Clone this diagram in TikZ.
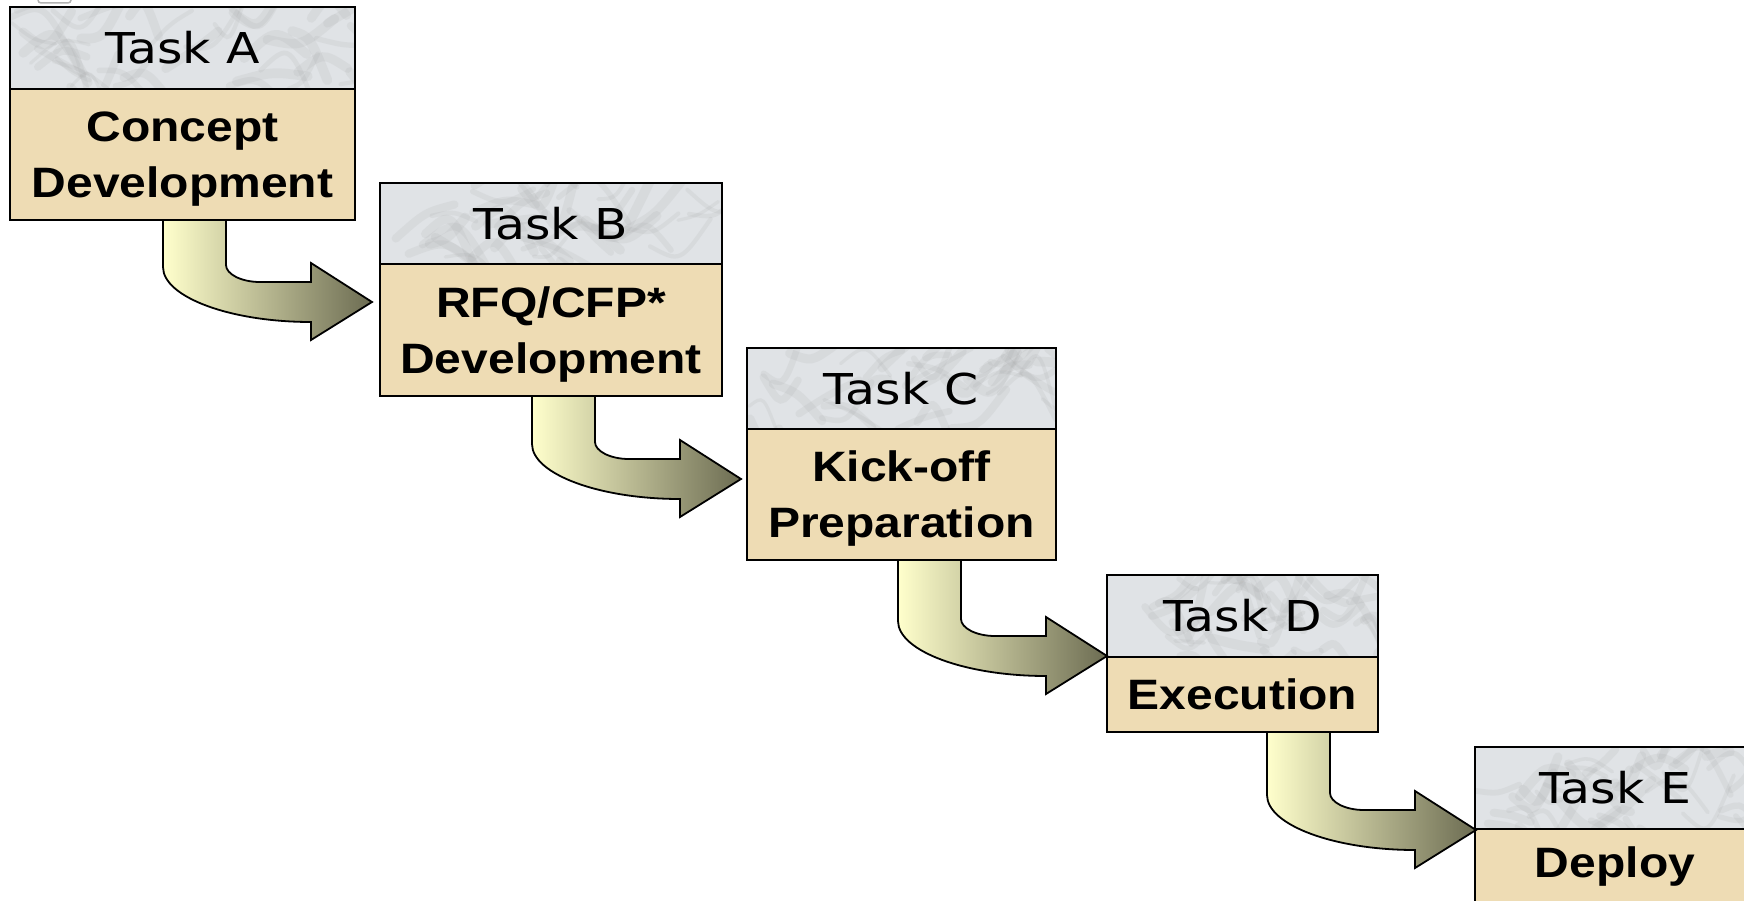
\documentclass[tikz,border=0pt]{standalone}
\usepackage{fontspec}
\setmainfont{Liberation Sans}[FakeStretch=1.13]
\newfontfamily\taskfont{DejaVu Sans}[FakeStretch=1.15]
\usetikzlibrary{calc}
\definecolor{marble}{HTML}{E0E3E6}
\definecolor{sand}{HTML}{EEDCB4}
\definecolor{ylw}{HTML}{FFFFCC}
\definecolor{olv}{HTML}{6C6C52}
\newcommand\topstrut{\rule{0pt}{39.5pt}}
\tikzset{
  marbletex/.style={path picture={
    \coordinate (pnw) at (path picture bounding box.north west);
    \coordinate (pse) at (path picture bounding box.south east);
    \foreach \k in {1,...,40}{
      \pgfmathsetmacro\ax{rnd}\pgfmathsetmacro\ay{rnd}
      \pgfmathsetmacro\bx{\ax+0.08+0.14*rnd}\pgfmathsetmacro\by{\ay-0.6+1.2*rnd}
      \pgfmathsetmacro\cx{(\ax+\bx)/2}\pgfmathsetmacro\cy{\ay+0.8*(rnd-0.5)}
      \pgfmathsetmacro\lw{3+7*rnd}
      \draw[gray!75, opacity=0.13, line width=\lw pt, line cap=round]
        let \p1=(pnw), \p2=(pse) in
        ({\x1+\ax*(\x2-\x1)}, {\y1+\ay*(\y2-\y1)})
        .. controls ({\x1+\cx*(\x2-\x1)}, {\y1+\cy*(\y2-\y1)}) ..
        ({\x1+\bx*(\x2-\x1)}, {\y1+\by*(\y2-\y1)});
    }}},
  taskhead/.style={draw=black, line width=1.8pt, fill=marble, marbletex, anchor=north west,
    inner sep=0pt, outer sep=0pt, font={\taskfont\fontsize{42.5}{50}\selectfont}},
  taskbody/.style={draw=black, line width=1.8pt, fill=sand, anchor=north west,
    inner sep=0pt, outer sep=0pt, align=center, font={\bfseries\fontsize{42.5}{56}\selectfont}},
  bent/.style={draw=black, line width=1.8pt, left color=ylw, right color=olv, line join=miter}
}
\newcommand\bentarrow[2]{%
  \draw[bent] (#1) -- ($(#1)+(63,0)$) -- ($(#1)+(63,#2-37)$)
    .. controls ($(#1)+(63,#2-28)$) and ($(#1)+(78,#2-20)$) .. ($(#1)+(97,#2-20)$)
    -- ($(#1)+(148,#2-20)$) -- ($(#1)+(148,#2-39)$) -- ($(#1)+(209,#2)$)
    -- ($(#1)+(148,#2+38)$) -- ($(#1)+(148,#2+20)$)
    .. controls ($(#1)+(67,#2+20)$) and ($(#1)+(0,#2-5)$) .. ($(#1)+(0,#2-35)$) -- cycle;}
\begin{document}
\begin{tikzpicture}[x=1pt, y=-1pt]
\pgfmathsetseed{7}
\useasboundingbox (0,0) rectangle (1744,901);
\fill[white] (0,0) rectangle (1744,901);
% small partial shape at top-left edge
\draw[gray!60, line width=1.5pt, rounded corners=3pt] (38,-12) rectangle (71,3);

% boxes
\node[taskhead, minimum width=345pt, minimum height=82pt] (At) at (10,7) {Task A};
\node[taskbody, minimum width=345pt, minimum height=131pt] (Ab) at (10,89) {\topstrut Concept\\Development};
\node[taskhead, minimum width=342pt, minimum height=81pt] (Bt) at (380,183) {Task B};
\node[taskbody, minimum width=342pt, minimum height=132pt] (Bb) at (380,264) {\topstrut RFQ/CFP*\\Development};
\node[taskhead, minimum width=309pt, minimum height=81pt] (Ct) at (747,348) {Task C};
\node[taskbody, minimum width=309pt, minimum height=131pt] (Cb) at (747,429) {\topstrut Kick-off\\Preparation};
\node[taskhead, minimum width=271pt, minimum height=82pt] (Dt) at (1107,575) {Task D};
\node[taskbody, minimum width=271pt, minimum height=75pt] (Db) at (1107,657) {Execution};
\node[taskhead, minimum width=280pt, minimum height=82pt] (Et) at (1475,747) {Task E};
\node[taskbody, minimum width=280pt, minimum height=75pt] (Eb) at (1475,829) {Deploy};

% bent arrows
\coordinate (sA) at ($(Ab.south west)+(153,0)$);
\coordinate (sB) at ($(Bb.south west)+(152,0)$);
\coordinate (sC) at ($(Cb.south west)+(151,0)$);
\coordinate (sD) at ($(Db.south west)+(160,0)$);
\bentarrow{sA}{82}
\bentarrow{sB}{83}
\bentarrow{sC}{96}
\bentarrow{sD}{98}
\end{tikzpicture}
\end{document}
